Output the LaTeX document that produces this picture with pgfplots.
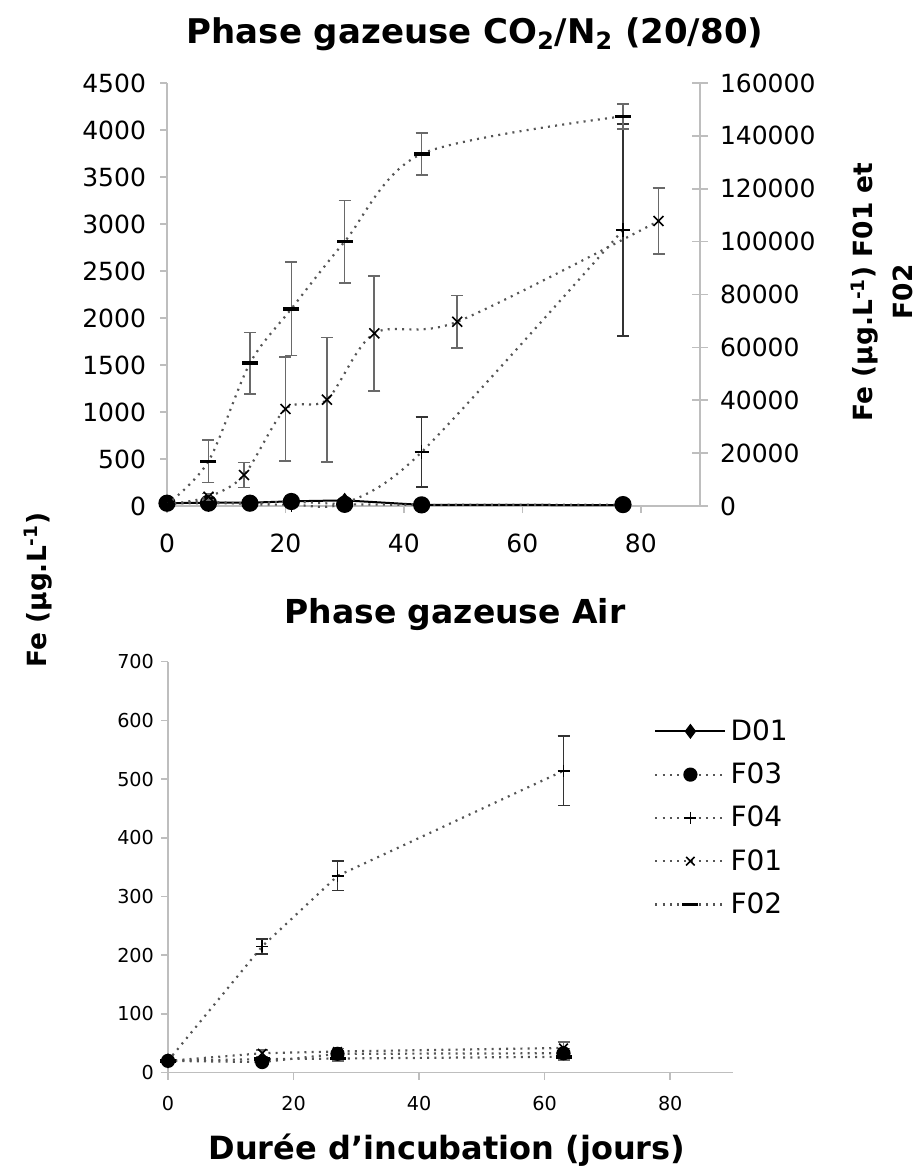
\documentclass[border=0pt]{standalone}
\usepackage{fontspec}
\setmainfont{DejaVu Sans}
\usepackage{pgfplots}
\pgfplotsset{compat=1.18}

\definecolor{axisgray}{RGB}{190,190,190}
\definecolor{linegray}{RGB}{85,85,85}
\definecolor{errgray}{RGB}{105,105,105}

\pgfplotsset{
  excel/.style={
    scale only axis, clip=false,
    tick align=outside,
    major tick length=3.5pt,
    /pgf/number format/fixed,
    /pgf/number format/1000 sep={},
    /pgf/number format/assume math mode=true,
  },
  lines/.style={axis line style={-, axisgray, line width=0.8pt},
    tick style={axisgray, line width=0.8pt}},
  dots/.style={linegray, line width=1.1pt, dash pattern=on 1pt off 2.6pt},
  ebar/.style={
    error bars/y dir=both, error bars/y explicit,
    error bars/error bar style={#1, line width=0.8pt, solid},
    error bars/error mark options={rotate=90, #1, mark size=3pt, line width=0.8pt, solid}},
  ebar/.default=errgray,
}

\begin{document}
\begin{tikzpicture}
\useasboundingbox (0pt,0pt) rectangle (460.5pt,-586.5pt);

% ---- top chart, left axis: D01, F03, F04
\begin{axis}[excel, at={(83.5pt,-253pt)}, anchor=south west,
  width=266.5pt, height=211.5pt,
  xmin=0, xmax=90, ymin=0, ymax=4500,
  xtick={0,20,...,80}, ytick={0,500,...,4500},
  axis x line*=bottom, axis y line*=left, lines,
  ticklabel style={font=\fontsize{12.5}{14}\selectfont},
  yticklabel style={xshift=-3.5pt},
  xticklabel style={yshift=-7pt},
]
\addplot[black, line width=1pt, mark=diamond*, mark size=3pt] coordinates {
  (0,30) (7,35) (14,35) (21,50) (30,60) (43,12) (77,10)};
\addplot[dots, mark=*, mark size=3.75pt, mark options={solid, black}] coordinates {
  (0,30) (7,30) (14,30) (21,48) (30,18) (43,12) (77,15)};
\addplot[dots, smooth, tension=0.5, mark=+, mark size=3.5pt,
  mark options={solid, black, line width=0.8pt}, ebar=black!80] coordinates {
  (0,25) +- (0,0)
  (7,45) +- (0,15)
  (14,20) +- (0,10)
  (21,15) +- (0,10)
  (30,30) +- (0,20)
  (43,574) +- (0,372)
  (77,2936) +- (0,1130)};
\end{axis}

% ---- top chart, right axis: F01, F02
\begin{axis}[excel, at={(83.5pt,-253pt)}, anchor=south west,
  width=266.5pt, height=211.5pt,
  xmin=0, xmax=90, ymin=0, ymax=160000,
  ytick={0,20000,...,160000}, scaled y ticks=false,
  axis x line=none, axis y line*=right, lines,
  tick align=center, major tick length=8pt,
  ticklabel style={font=\fontsize{12.5}{14}\selectfont},
  yticklabel style={xshift=2.5pt},
]
\addplot[dots, smooth, tension=0.5, mark=x, mark size=3.5pt,
  mark options={solid, black, line width=0.8pt}, ebar] coordinates {
  (0,500) +- (0,0)
  (7,3500) +- (0,1200)
  (13,11700) +- (0,4700)
  (20,36700) +- (0,19600)
  (27,40200) +- (0,23600)
  (35,65300) +- (0,21700)
  (49,69700) +- (0,10000)
  (83,107800) +- (0,12500)};
\addplot[dots, smooth, tension=0.5, mark=-, mark size=4pt,
  mark options={solid, black, line width=1.8pt}, ebar] coordinates {
  (0,500) +- (0,0)
  (7,16900) +- (0,8000)
  (14,54000) +- (0,11600)
  (21,74600) +- (0,17700)
  (30,100000) +- (0,15600)
  (43,133200) +- (0,8000)
  (77,147400) +- (0,4700)};
\end{axis}

% ---- bottom chart
\begin{axis}[excel, at={(84pt,-536.3pt)}, anchor=south west,
  width=282.5pt, height=205.5pt,
  xmin=0, xmax=90, ymin=0, ymax=700,
  xtick={0,20,...,80}, ytick={0,100,...,700},
  axis x line*=bottom, axis y line*=left, lines,
  ticklabel style={font=\fontsize{9.6}{11}\selectfont},
  xticklabel style={yshift=-5pt},
  legend cell align=left,
  legend style={at={(axis cs:77.4,609)}, anchor=north west, draw=none, fill=none,
    inner sep=0pt, row sep=5.75pt, font=\fontsize{14}{17}\selectfont},
  legend image code/.code={\draw[mark repeat=2, mark phase=2, #1]
    plot coordinates {(0pt,0pt) (17.5pt,0pt) (35pt,0pt)};},
]
\addplot[black, line width=1pt, mark=diamond*, mark size=3pt] coordinates {(0,20)};
\addlegendentry{D01}
\addplot[dots, mark=*, mark size=3pt, mark options={solid, black}, ebar] coordinates {
  (0,20) +- (0,0) (15,18) +- (0,3) (27,32) +- (0,6) (63,33) +- (0,8)};
\addlegendentry{F03}
\addplot[dots, mark=+, mark size=3pt, mark options={solid, black, line width=0.8pt}, ebar=black!80] coordinates {
  (0,20) +- (0,0) (15,215) +- (0,13) (27,335) +- (0,25) (63,514) +- (0,59)};
\addlegendentry{F04}
\addplot[dots, mark=x, mark size=3pt, mark options={solid, black, line width=0.8pt}, ebar] coordinates {
  (0,20) +- (0,0) (15,33) +- (0,6) (27,36) +- (0,5) (63,42) +- (0,10)};
\addlegendentry{F01}
\addplot[dots, mark=-, mark size=4pt, mark options={solid, black, line width=1.8pt}, ebar] coordinates {
  (0,20) +- (0,0) (15,23) +- (0,3) (27,24) +- (0,4) (63,27) +- (0,6)};
\addlegendentry{F02}
\end{axis}

\node[font=\bfseries\fontsize{17}{20}\selectfont] at (237.5pt,-17pt)
  {Phase gazeuse CO\textsubscript{2}/N\textsubscript{2} (20/80)};
\node[rotate=90, align=center, font=\bfseries\fontsize{13.2}{20}\selectfont] at (441pt,-146pt)
  {Fe (µg.L\textsuperscript{-1}) F01 et\\F02};
\node[rotate=90, font=\bfseries\fontsize{13.2}{16}\selectfont] at (19pt,-295pt)
  {Fe (µg.L\textsuperscript{-1})};
\node[font=\bfseries\fontsize{16.5}{20}\selectfont] at (227.5pt,-307.5pt) {Phase gazeuse Air};
\node[font=\bfseries\fontsize{16}{20}\selectfont] at (223.5pt,-575pt) {Durée d’incubation (jours)};
\end{tikzpicture}
\end{document}
